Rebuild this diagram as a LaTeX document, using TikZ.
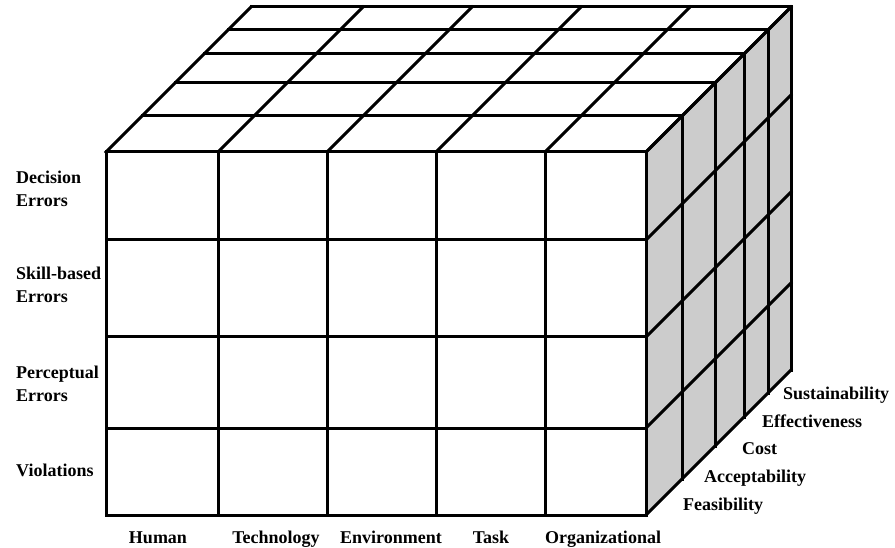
\documentclass[tikz,border=0pt]{standalone}
\usepackage{fontspec}
\setmainfont{Liberation Serif}
\begin{document}
\begin{tikzpicture}[x=1pt,y=-1pt,
  grid/.style={line width=3pt, line cap=rect},
  face/.style={fill=black!20, draw=none},
  lbl/.style={font=\fontsize{18}{23}\selectfont\bfseries, inner sep=0pt},
  lleft/.style={lbl, anchor=base west, align=left},
  lbot/.style={lbl, anchor=base},
  lright/.style={lbl, anchor=base west}]
\useasboundingbox (0,0) rectangle (895,548);
% right face fill
\fill[face] (646,152) -- (791,7) -- (791,370) -- (646,515) -- cycle;
% top and right faces
\foreach \d in {0,36,69,98,122,145}{
  \draw[grid] (106+\d,152-\d) -- (646+\d,152-\d);
  \draw[grid] (646+\d,152-\d) -- (646+\d,515-\d);
}
\foreach \x in {106,218,327,436,545,646}{
  \draw[grid] (\x,152) -- (\x+145,7);
  \draw[grid] (\x,152) -- (\x,515);
}
\foreach \y in {152,240,337,428,515}{
  \draw[grid] (106,\y) -- (646,\y);
  \draw[grid] (646,\y) -- (791,\y-145);
}
% left labels (base = last line)
\node[lleft] (dec) at (16,207) {Decision\\Errors};
\node[lleft] (skill) at (16,303) {Skill-based\\Errors};
\node[lleft] (perc) at (16,401) {Perceptual\\Errors};
\node[lleft] (viol) at (16,476) {Violations};
% bottom labels
\node[lbot] (hum) at (158,543) {Human};
\node[lbot] (tech) at (276,543) {Technology};
\node[lbot] (env) at (391,543) {Environment};
\node[lbot] (task) at (491,543) {Task};
\node[lbot] (org) at (603,543) {Organizational};
% right labels
\node[lright] (sus) at (783,399) {Sustainability};
\node[lright] (eff) at (762,427) {Effectiveness};
\node[lright] (cost) at (742,454) {Cost};
\node[lright] (acc) at (704,482) {Acceptability};
\node[lright] (fea) at (683,510) {Feasibility};
\end{tikzpicture}
\end{document}
